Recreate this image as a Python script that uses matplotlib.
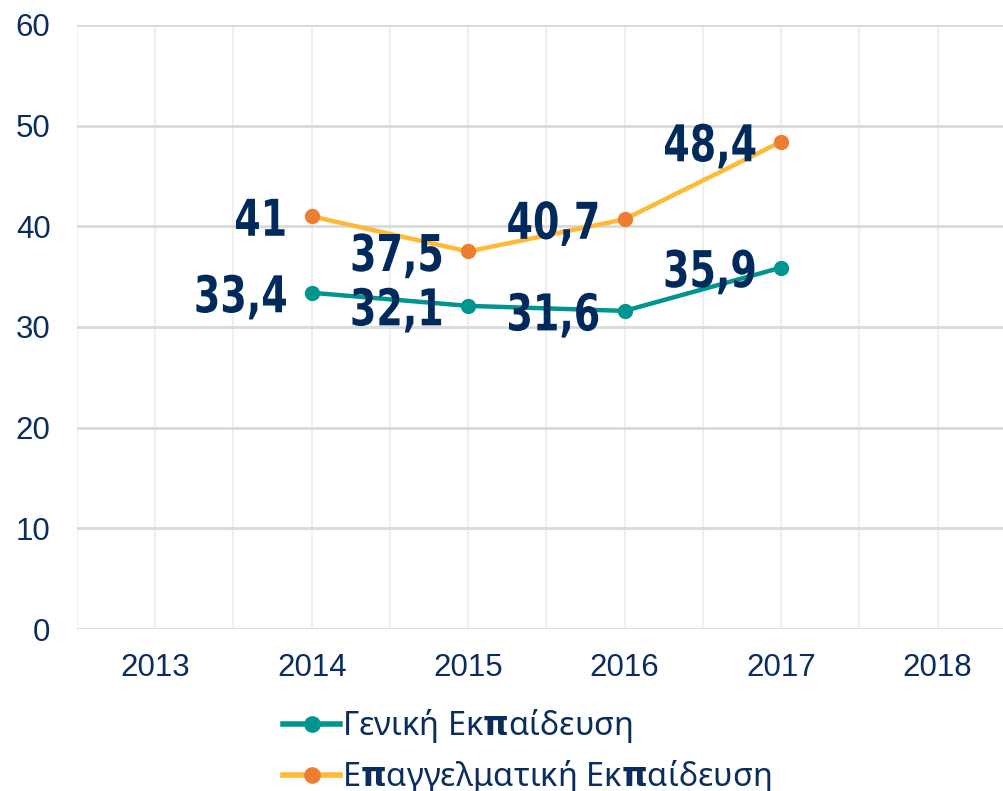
import matplotlib
import matplotlib.pyplot as plt
from matplotlib.lines import Line2D
from matplotlib.patheffects import AbstractPathEffect
from matplotlib.transforms import Affine2D

matplotlib.use("Agg")

years = [2013, 2014, 2015, 2016, 2017, 2018]
data_years = [2014, 2015, 2016, 2017]
general = [33.4, 32.1, 31.6, 35.9]
vocational = [41.0, 37.5, 40.7, 48.4]
general_name = "Γενική Εκ$\\mathbf{π}$αίδευση"
vocational_name = "Ε$\\mathbf{π}$αγγελματική Εκ$\\mathbf{π}$αίδευση"

navy = "#0B2D5E"
label_navy = "#002A5C"
teal = "#00958F"
yellow = "#FFB933"
orange = "#ED7D31"

plt.rcParams["font.family"] = ["Liberation Sans", "DejaVu Sans"]


class Squeeze(AbstractPathEffect):
    # narrow the text horizontally, keeping its right edge fixed
    def __init__(self, sx):
        super().__init__()
        self.sx = sx

    def draw_path(self, renderer, gc, tpath, affine, rgbFace=None):
        right = tpath.get_extents(affine).x1
        squeeze = Affine2D().translate(-right, 0).scale(self.sx, 1).translate(right, 0)
        renderer.draw_path(gc, tpath, affine + squeeze, rgbFace)


fig = plt.figure(figsize=(10.04, 7.91), dpi=100)
ax = fig.add_axes([0.0767, 0.2048, 0.935, 0.7636])

ax.plot(data_years, general, color=teal, lw=3.2, marker="o", ms=10,
        mfc=teal, mec=teal, zorder=3)
ax.plot(data_years, vocational, color=yellow, lw=3.2, marker="o", ms=10,
        mfc=orange, mec=orange, zorder=3)

for series in (general, vocational):
    for x, v in zip(data_years, series):
        txt = f"{v:g}".replace(".", ",")
        ax.annotate(txt, (x, v), xytext=(-17, 0), textcoords="offset points",
                    ha="right", va="center_baseline", fontsize=36.5,
                    fontweight="bold", family="DejaVu Sans",
                    color=label_navy, zorder=4, path_effects=[Squeeze(0.75)])

ax.set_xlim(2012.5, 2018.5)
ax.set_ylim(0, 60)
ax.set_xticks(years)
ax.set_xticks([y + 0.5 for y in [2012] + years], minor=True)
ax.set_yticks(range(0, 61, 10))
ax.tick_params(axis="both", which="both", length=0, labelsize=22.5,
               labelcolor=navy)
ax.tick_params(axis="x", pad=17)
ax.tick_params(axis="y", pad=19)

ax.grid(axis="y", color="#D9D9D9", lw=2)
ax.grid(axis="x", which="both", color="#EFEFEF", lw=1.5)
ax.set_axisbelow(True)
for s in ax.spines.values():
    s.set_visible(False)

handles = [
    Line2D([], [], color=teal, lw=4, marker="o", ms=11, mfc=teal, mec=teal),
    Line2D([], [], color=yellow, lw=4, marker="o", ms=11, mfc=orange, mec=orange),
]
leg = fig.legend(handles, [general_name, vocational_name], loc="upper left",
                 bbox_to_anchor=(0.282, 0.106), frameon=False,
                 handlelength=1.75, handletextpad=0.05, labelspacing=0.4,
                 borderaxespad=0, borderpad=0,
                 prop={"family": ["Noto Sans", "DejaVu Sans"], "size": 23.5})
for t in leg.get_texts():
    t.set_color(navy)

fig.savefig("out.png", dpi=100)
